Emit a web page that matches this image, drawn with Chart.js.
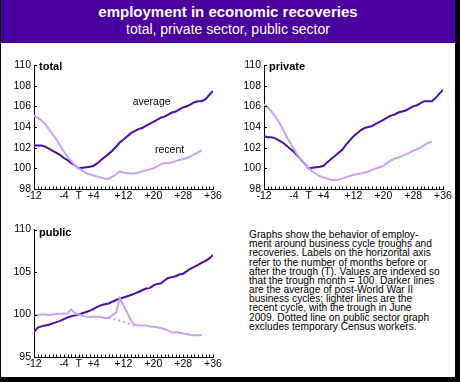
<!DOCTYPE html>
<html><head><meta charset="utf-8">
<script src="https://cdn.jsdelivr.net/npm/chart.js@4"></script>
<style>
html,body{margin:0;padding:0;background:#fff;width:460px;height:382px;overflow:hidden;}
#frame{position:absolute;left:0;top:0;width:460px;height:382px;background:#000;}
#panel{position:absolute;left:1px;top:0;width:454px;height:377px;background:#fff;}
#banner{position:absolute;left:1px;top:0;width:454px;height:43px;background:#4a009e;}
.t{position:absolute;white-space:nowrap;font-family:"Liberation Sans",Arial,sans-serif;color:#000;}
#title{left:1px;width:454px;text-align:center;top:3.8px;font-size:15px;line-height:15px;font-weight:bold;color:#fff;}
#sub{left:1px;width:454px;text-align:center;top:21.5px;font-size:14px;line-height:14px;color:#fff;}
.pl{font-size:11px;line-height:11px;font-weight:bold;}
.ann{font-size:10.5px;line-height:10.5px;}
#note{left:249px;top:230px;font-size:10.2px;line-height:9.17px;}
canvas{position:absolute;}
</style></head>
<body>
<div id="frame"></div>
<div id="panel"></div>
<div id="banner"></div>
<div class="t" id="title">employment in economic recoveries</div>
<div class="t" id="sub">total, private sector, public sector</div>
<canvas id="cTotal" width="225" height="150" style="left:0;top:55px;width:225px;height:150px"></canvas>
<canvas id="cPrivate" width="225" height="150" style="left:230px;top:55px;width:225px;height:150px"></canvas>
<canvas id="cPublic" width="225" height="165" style="left:0;top:215px;width:225px;height:165px"></canvas>
<div class="t pl" style="left:39px;top:61.4px">total</div>
<div class="t pl" style="left:269px;top:61.4px">private</div>
<div class="t pl" style="left:39px;top:226.7px">public</div>
<div class="t ann" style="left:132.7px;top:96.1px">average</div>
<div class="t ann" style="left:155px;top:143.8px">recent</div>
<div class="t" id="note">Graphs show the behavior of employ-<br>ment around business cycle troughs and<br>recoveries. Labels on the horizontal axis<br>refer to the number of months before or<br>after the trough (T). Values are indexed so<br>that the trough month = 100. Darker lines<br>are the average of post-World War II<br>business cycles; lighter lines are the<br>recent cycle, with the trough in June<br>2009. Dotted line on public sector graph<br>excludes temporary Census workers.</div>
<script>
// months relative to trough (T = 0)
const months = [-12,-11,-10,-9,-8,-7,-6,-5,-4,-3,-2,-1,0,1,2,3,4,5,6,7,8,9,10,11,12,13,14,15,16,17,18,19,20,21,22,23,24,25,26,27,28,29,30,31,32,33,34,35,36];
const xTicks = [-12,-4,0,4,12,20,28,36];
const topYTicks = [98,100,102,104,106,108,110];
const publicYTicks = [95,100,105,110];

const totalAverage = [102.2,102.2,102.2,102.1,101.9,101.7,101.5,101.3,101.0,100.8,100.5,100.3,100.0,100.05,100.1,100.15,100.25,100.5,100.8,101.1,101.4,101.7,102.1,102.5,102.8,103.1,103.4,103.6,103.8,103.9,104.1,104.3,104.5,104.7,104.9,105.0,105.2,105.4,105.5,105.7,105.9,106.0,106.2,106.4,106.5,106.5,106.7,107.1,107.5];
const totalRecent = [105.1,104.9,104.6,104.3,103.8,103.3,102.8,102.2,101.6,101.1,100.7,100.3,100.0,99.75,99.55,99.4,99.3,99.2,99.1,99.0,99.0,99.2,99.4,99.7,99.6,99.55,99.5,99.5,99.6,99.7,99.8,99.9,100.0,100.2,100.4,100.5,100.5,100.6,100.7,100.8,100.9,101.0,101.15,101.35,101.55,101.75];
const privateAverage = [103.1,103.0,103.0,102.9,102.7,102.5,102.2,101.9,101.6,101.2,100.8,100.4,100.0,100.05,100.1,100.15,100.25,100.6,100.9,101.2,101.5,101.8,102.3,102.7,103.1,103.4,103.7,103.9,104.0,104.1,104.3,104.5,104.7,104.9,105.1,105.2,105.4,105.5,105.6,105.8,106.0,106.1,106.3,106.5,106.5,106.5,106.8,107.2,107.6];
const privateRecent = [106.2,105.9,105.5,105.0,104.5,103.8,103.1,102.5,101.9,101.3,100.8,100.4,100.0,99.7,99.45,99.25,99.1,99.0,98.9,98.85,98.9,99.0,99.15,99.25,99.35,99.45,99.5,99.6,99.7,99.85,100.0,100.1,100.25,100.5,100.75,100.95,101.05,101.2,101.35,101.5,101.7,101.85,102.0,102.25,102.45,102.6];
const publicAverage = [97.95,98.45,98.6,98.7,98.8,98.95,99.1,99.25,99.45,99.65,99.8,99.9,100.0,100.15,100.3,100.45,100.65,100.9,101.1,101.2,101.3,101.5,101.7,101.85,102.0,102.15,102.3,102.45,102.65,102.85,103.05,103.1,103.4,103.6,103.65,104.0,104.3,104.4,104.5,104.7,104.8,105.1,105.4,105.6,105.85,106.1,106.3,106.6,107.0];
const publicRecent = [99.85,99.95,100.0,100.0,99.95,100.0,100.05,100.1,100.1,100.15,100.6,100.15,100.0,99.85,99.75,99.7,99.75,99.75,99.7,99.6,99.6,99.9,100.2,101.9,101.05,100.2,99.3,98.75,98.75,98.7,98.7,98.6,98.55,98.5,98.4,98.3,98.1,97.85,97.95,97.85,97.75,97.7,97.6,97.55,97.55,97.6];
const exCensusMonths = [8,9,10,11,12,13,14,15];
const publicExCensus = [99.6,99.5,99.4,99.3,99.15,99.0,98.85,98.75];

const DARK = '#4b0fa0', LIGHT = '#c8a2f7';
const FONT = {family:'"Liberation Sans", Arial, sans-serif', size:10.5};

function pts(xs, ys){ return ys.map((v,i)=>({x:xs[i], y:v})); }

const axisTicks = {
  id:'axisTicks',
  afterDraw(chart){
    const {ctx, chartArea:a, scales:{x,y}} = chart;
    ctx.save(); ctx.strokeStyle='#000'; ctx.lineWidth=1; ctx.beginPath();
    months.forEach(m=>{ const px=Math.round(x.getPixelForValue(m))+0.5; ctx.moveTo(px,a.bottom); ctx.lineTo(px,a.bottom-2.5); });
    y.ticks.forEach(t=>{ const py=Math.round(y.getPixelForValue(t.value))+0.5; ctx.moveTo(a.left,py); ctx.lineTo(a.left+3,py); });
    ctx.stroke(); ctx.restore();
  }
};

function makeChart(id, datasets, yMin, yMax, yTicks, padTop, xH){
  new Chart(document.getElementById(id), {
    type:'line',
    data:{datasets},
    options:{
      responsive:false, animation:false, devicePixelRatio:1,
      layout:{padding:{top:padTop, right:12, left:0, bottom:0}},
      plugins:{legend:{display:false}, tooltip:{enabled:false}},
      elements:{point:{radius:0}, line:{tension:0, borderWidth:2}},
      scales:{
        x:{type:'linear', min:-12, max:36,
           grid:{display:false, drawTicks:false, tickLength:0}, border:{display:true,color:'#000',width:1},
           afterBuildTicks:s=>{ s.ticks = xTicks.map(v=>({value:v})); },
           afterFit:s=>{ s.height = xH; },
           ticks:{autoSkip:false, maxRotation:0, padding:1, color:'#000', font:FONT,
             callback:v=> v===0 ? 'T' : (v>0 ? '+'+v : String(v))}},
        y:{min:yMin, max:yMax,
           grid:{display:false, drawTicks:false, tickLength:0}, border:{display:true,color:'#000',width:1},
           afterBuildTicks:s=>{ s.ticks = yTicks.map(v=>({value:v})); },
           afterFit:s=>{ s.width = 34; },
           ticks:{padding:3, color:'#000', font:FONT}}
      }
    },
    plugins:[axisTicks]
  });
}

makeChart('cTotal', [
  {data:pts(months,totalRecent), borderColor:LIGHT},
  {data:pts(months,totalAverage), borderColor:DARK}
], 98, 110, topYTicks, 10, 16);

makeChart('cPrivate', [
  {data:pts(months,privateRecent), borderColor:LIGHT},
  {data:pts(months,privateAverage), borderColor:DARK}
], 98, 110, topYTicks, 10, 16);

makeChart('cPublic', [
  {data:pts(exCensusMonths,publicExCensus), borderColor:LIGHT, borderDash:[2,3]},
  {data:pts(months,publicRecent), borderColor:LIGHT},
  {data:pts(months,publicAverage), borderColor:DARK}
], 95, 110, publicYTicks, 14.5, 23);
</script>
</body></html>
